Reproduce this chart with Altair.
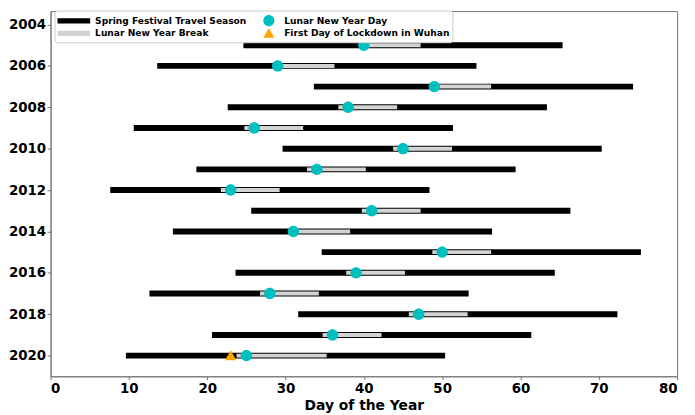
import altair as alt
import pandas as pd

years = [2005, 2006, 2007, 2008, 2009, 2010, 2011, 2012, 2013, 2014, 2015, 2016, 2017, 2018, 2019, 2020]
lny_day = [40, 29, 49, 38, 26, 45, 34, 23, 41, 31, 50, 39, 28, 47, 36, 25]
travel_start = [25, 14, 34, 23, 11, 30, 19, 8, 26, 16, 35, 24, 13, 32, 21, 10]
travel_end = [65, 54, 74, 63, 51, 70, 59, 48, 66, 56, 75, 64, 53, 72, 61, 50]
break_start = [40, 29, 49, 37, 25, 44, 33, 22, 40, 31, 49, 38, 27, 46, 35, 24]
break_end = [47, 36, 56, 44, 32, 51, 40, 29, 47, 38, 56, 45, 34, 53, 42, 35]
lockdown_year = [2020]
lockdown_day = [23]

series = ["Spring Festival Travel Season", "Lunar New Year Break",
          "Lunar New Year Day", "First Day of Lockdown in Wuhan"]
colors = ["#000000", "#d3d3d3", "#00bfbf", "#ffa500"]
# symbol paths (unit = half of the nominal symbol size)
bar_path = "M-3.214,-0.37H1.5V0.37H-3.214Z"
circle_path = "M0.8,0A0.8,0.8 0 1,1 -0.8,0A0.8,0.8 0 1,1 0.8,0Z"
tri_path = "M0,-0.75L0.8,0.65L-0.8,0.65Z"
shapes = [bar_path, bar_path, circle_path, tri_path]

travel = pd.DataFrame({"year": years, "start": travel_start, "end": travel_end, "series": series[0]})
brk = pd.DataFrame({"year": years, "start": break_start, "end": break_end, "series": series[1]})
days = pd.DataFrame({"year": years, "day": lny_day, "series": series[2]})
lock = pd.DataFrame({"year": lockdown_year, "day": lockdown_day, "series": series[3]})

FONT = "DejaVu Sans"
x_scale = alt.Scale(domain=[0, 80], nice=False, zero=False)
y_scale = alt.Scale(domain=[2003.35, 2021], reverse=True, nice=False, zero=False)
color_scale = alt.Scale(domain=series, range=colors)
shape_scale = alt.Scale(domain=series, range=shapes)

legend = alt.Legend(
    title=None, orient="none", legendX=4, legendY=-0.5, columns=2,
    labelFont=FONT, labelFontWeight="bold", labelFontSize=9.2, labelColor="black",
    labelLimit=400,
    symbolSize=196, symbolStrokeWidth=0, symbolOffset=15.5, labelOffset=8.5,
    symbolOpacity=1,
    columnPadding=-3, rowPadding=-1, padding=3,
    fillColor="white", strokeColor="#cccccc", cornerRadius=3,
)

x_axis = alt.Axis(values=list(range(0, 81, 10)), title="Day of the Year", grid=False)
y_axis = alt.Axis(values=list(range(2004, 2021, 2)), format="d", title=None, grid=False)

X = alt.X("start:Q", scale=x_scale, axis=x_axis)
Y = alt.Y("year:Q", scale=y_scale, axis=y_axis)
C = alt.Color("series:N", scale=color_scale, legend=legend)
S = alt.Shape("series:N", scale=shape_scale, legend=legend)

travel_layer = alt.Chart(travel).mark_rule(strokeWidth=6, strokeCap="square").encode(
    x=X, x2="end:Q", y=Y, color=C)
break_layer = alt.Chart(brk).mark_rule(strokeWidth=4, strokeCap="square").encode(
    x=X, x2="end:Q", y=Y, color=C)
day_layer = alt.Chart(days).mark_point(filled=True, opacity=1, size=207, strokeWidth=0).encode(
    x=alt.X("day:Q", scale=x_scale, axis=x_axis), y=Y, color=C, shape=S)
lock_layer = alt.Chart(lock).mark_point(filled=True, opacity=1, size=199, strokeWidth=0).encode(
    x=alt.X("day:Q", scale=x_scale, axis=x_axis), y=Y, color=C, shape=S)

chart = alt.layer(travel_layer, break_layer, day_layer, lock_layer).properties(
    width=633, height=369,
    autosize=alt.AutoSizeParams(type="none"),
    padding={"left": 43, "top": 1, "right": 10, "bottom": 37},
).configure_view(
    stroke="#777777", strokeWidth=1
).configure_axis(
    labelFont=FONT, labelFontWeight="bold", labelFontSize=13.5, labelColor="black",
    titleFont=FONT, titleFontWeight="bold", titleFontSize=14, titleColor="black",
    tickColor="#777777", tickSize=3.5, domainColor="#777777", labelPadding=1.5,
).configure_axisX(titlePadding=4, labelPadding=2)

chart.save("out.html", embed_options={"renderer": "svg", "actions": False})
